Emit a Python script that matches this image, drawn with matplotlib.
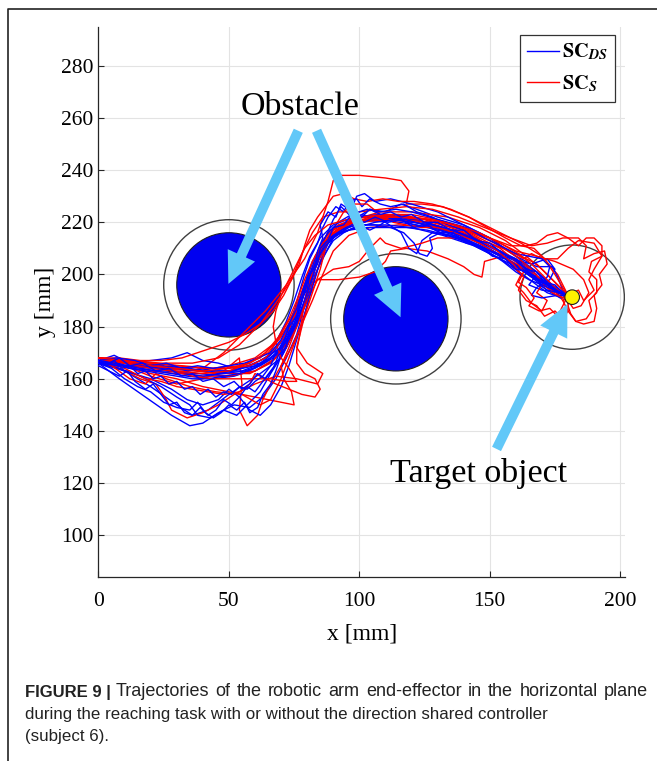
import matplotlib
matplotlib.use('Agg')
import matplotlib.pyplot as plt
from matplotlib.patches import Circle, FancyArrow
from matplotlib.lines import Line2D
import numpy as np

plt.rcParams['font.family'] = ['Liberation Serif', 'DejaVu Serif']
plt.rcParams['mathtext.fontset'] = 'stix'

# obstacles / target (center x, center y, radius)
obstacle_centers = [(50, 196), (114, 183)]
obstacle_radius = 20
safety_radius = 25
target_center = (181.6, 191.3)
target_radius = 2.8
target_zone_radius = 20

# end-effector trajectories with the direction shared controller (SC_DS)
ds_run1 = [(0, 166.5), (10, 165), (20, 164), (30, 163.5), (40, 163), (50, 163), (60, 165), (68, 169), (74, 176),
           (78, 185), (81, 195), (84, 205), (88, 213), (94, 218), (102, 220.5), (112, 220.5), (122, 219),
           (132, 216.5), (142, 213), (152, 208.5), (162, 202.5), (170, 197.5), (176, 194), (180, 192)]
ds_run2 = [(0, 166), (8, 160), (18, 153), (28, 146), (35, 142), (40, 143), (46, 147), (52, 150), (58, 149),
           (63, 153), (68, 160), (72, 168), (76, 177), (79, 188), (82, 200), (86, 210), (92, 217), (100, 222),
           (108, 223), (118, 221), (130, 218), (142, 214), (155, 207), (166, 199), (174, 195), (180, 192)]
ds_run3 = [(0, 167), (10, 163), (20, 157), (30, 150), (36, 146), (42, 148), (50, 154), (56, 158), (62, 162),
           (70, 168), (75, 178), (80, 190), (84, 202), (88, 212), (95, 219), (104, 225), (110, 224), (116, 227),
           (122, 225), (130, 222), (140, 219), (150, 214), (160, 207), (168, 201), (172, 197), (176, 193),
           (180, 192)]
ds_run4 = [(0, 166), (15, 166), (25, 165), (35, 164), (45, 162), (55, 164), (62, 167), (70, 172), (76, 181),
           (80, 190), (83, 200), (87, 208), (90, 214), (97, 219), (104, 221), (110, 220), (116, 216), (119, 210),
           (122, 208), (124, 213), (128, 216), (136, 215), (146, 211), (156, 206), (164, 201), (172, 197),
           (178, 193), (180, 192)]
ds_run5 = [(0, 166), (12, 164), (25, 163), (38, 162), (50, 161), (60, 163), (67, 167), (72, 174), (77, 183),
           (80, 193), (83, 203), (86, 212), (90, 221), (93, 226), (96, 223), (99, 230), (102, 231), (106, 228),
           (112, 229), (120, 227), (130, 224), (140, 219), (150, 214), (160, 207), (168, 203), (174, 203),
           (176, 199), (178, 194), (180, 192)]
ds_run6 = [(0, 166), (8, 164), (16, 161), (24, 157), (30, 153), (35, 150), (38, 146), (43, 145), (48, 148),
           (53, 146), (57, 150), (62, 155), (66, 162), (71, 170), (75, 178), (78, 186), (81, 196), (84, 205),
           (87, 212), (93, 216), (101, 219), (110, 219), (120, 218), (132, 215), (144, 211), (154, 206),
           (164, 199), (172, 193), (178, 191), (180, 192)]
ds_run7 = [(0, 167), (6, 169), (12, 166), (20, 167), (28, 168), (34, 170), (40, 167), (46, 166), (52, 164),
           (58, 165), (64, 168), (70, 172), (74, 180), (77, 189), (80, 198), (84, 207), (89, 214), (96, 218),
           (105, 222), (115, 222), (125, 220), (135, 217), (145, 213), (155, 208), (163, 203), (168, 200),
           (165, 196), (170, 194), (176, 193), (180, 192)]
ds_run8 = [(0, 166), (10, 165), (22, 163), (34, 161), (44, 160), (52, 161), (58, 163), (64, 167), (68, 174),
           (72, 182), (75, 190), (78, 199), (81, 207), (85, 214), (90, 219), (98, 222), (108, 223), (118, 222),
           (128, 219), (138, 216), (148, 211), (158, 205), (166, 199), (172, 194), (177, 191), (180, 192)]
ds_run9 = [(0, 166), (10, 163), (20, 160), (28, 156), (34, 152), (40, 150), (46, 152), (50, 156), (54, 153),
           (58, 148), (62, 146), (66, 150), (70, 157), (73, 165), (76, 175), (79, 185), (82, 195), (85, 205),
           (90, 213), (94, 216), (100, 219), (104, 217), (108, 219), (114, 223), (122, 221), (132, 218),
           (142, 215), (152, 210), (160, 206), (168, 201), (174, 196), (180, 192)]
ds_run10 = [(0, 166), (15, 165), (30, 164), (45, 163), (55, 163), (63, 166), (70, 171), (75, 180), (79, 190),
            (82, 200), (86, 209), (91, 216), (99, 220), (108, 222), (118, 221), (128, 218), (138, 215),
            (148, 210), (158, 206), (166, 204), (172, 206), (175, 202), (173, 198), (168, 195), (166, 192),
            (170, 191), (176, 192), (180, 192)]
ds_run11 = [(0, 165), (4, 163), (8, 161), (11, 163), (14, 159), (18, 156), (21, 158), (24, 154), (27, 150),
            (30, 151), (33, 147), (36, 146), (39, 149), (42, 146), (45, 148), (48, 152), (51, 150), (54, 153),
            (57, 157), (60, 155), (63, 159), (66, 163), (69, 167), (71, 173), (74, 178), (76, 184), (78, 190),
            (79, 196), (82, 201), (84, 208), (86, 213), (89, 217), (93, 219), (97, 221), (101, 223), (105, 221),
            (110, 222), (116, 221), (121, 219), (127, 218), (133, 215), (139, 214), (145, 211), (150, 209),
            (156, 206), (161, 203), (166, 200), (170, 198), (174, 195), (178, 193), (180, 192)]
ds_run12 = [(0, 166), (5, 167), (10, 165), (16, 166), (22, 164), (28, 165), (34, 163), (40, 164), (46, 162),
            (52, 163), (57, 165), (62, 166), (66, 169), (70, 174), (73, 180), (75, 186), (77, 193), (79, 200),
            (81, 206), (84, 212), (86, 218), (88, 222), (91, 226), (94, 224), (96, 228), (99, 229), (101, 226),
            (104, 229), (108, 227), (112, 226), (117, 227), (122, 224), (128, 222), (134, 219), (140, 217),
            (146, 213), (152, 210), (158, 205), (163, 201), (168, 198), (172, 196), (176, 193), (180, 192)]
ds_run13 = [(0, 167), (6, 166), (12, 164), (18, 163), (24, 162), (30, 161), (36, 160), (42, 160), (48, 161),
            (54, 162), (60, 164), (65, 167), (69, 171), (72, 177), (75, 183), (78, 190), (80, 197), (83, 204),
            (86, 210), (90, 215), (95, 218), (100, 219), (106, 219), (112, 218), (117, 216), (121, 212),
            (123, 208), (126, 207), (128, 210), (127, 214), (131, 216), (137, 214), (143, 212), (149, 209),
            (155, 205), (160, 201), (165, 198), (170, 196), (175, 194), (180, 192)]
ds_run14 = [(0, 166), (5, 164), (10, 160), (15, 157), (20, 155), (25, 151), (30, 149), (35, 148), (38, 151),
            (41, 147), (44, 145), (47, 147), (50, 150), (53, 148), (56, 151), (58, 147), (61, 149), (63, 154),
            (66, 158), (68, 163), (70, 169), (73, 175), (76, 181), (78, 187), (80, 193), (82, 199), (84, 206),
            (87, 211), (91, 215), (96, 217), (103, 218), (110, 218), (118, 218), (126, 217), (134, 215),
            (142, 212), (150, 208), (158, 204), (165, 200), (171, 197), (176, 194), (180, 192)]
ds_run15 = [(0, 166), (8, 165), (16, 165), (24, 164), (32, 162), (40, 161), (48, 162), (56, 163), (62, 165),
            (67, 168), (71, 173), (74, 179), (77, 186), (79, 193), (81, 200), (83, 206), (85, 211), (88, 216),
            (92, 220), (97, 223), (103, 225), (108, 224), (114, 225), (120, 224), (127, 222), (134, 220),
            (141, 218), (148, 214), (154, 211), (160, 208), (165, 207), (170, 206), (173, 203), (172, 199),
            (169, 196), (172, 194), (177, 193), (180, 192)]
ds_run16 = [(0, 167), (7, 168), (14, 167), (20, 165), (26, 166), (32, 164), (38, 165), (44, 164), (50, 165),
            (56, 166), (61, 168), (66, 170), (70, 175), (73, 181), (76, 187), (78, 193), (80, 199), (82, 205),
            (85, 210), (88, 214), (93, 216), (99, 218), (106, 220), (113, 221), (120, 220), (128, 219),
            (136, 217), (144, 214), (152, 210), (159, 206), (165, 201), (170, 197), (175, 194), (180, 192)]
ds_run17 = [(0, 166), (3, 165), (6, 167), (9, 164), (12, 165), (15, 162), (18, 163), (21, 160), (24, 161),
            (27, 158), (30, 159), (33, 156), (36, 157), (39, 154), (42, 156), (45, 153), (48, 155), (51, 154),
            (54, 157), (57, 156), (60, 159), (63, 161), (66, 165), (68, 170), (71, 174), (73, 180), (76, 184),
            (77, 190), (80, 194), (81, 200), (84, 204), (85, 210), (88, 213), (90, 218), (94, 219), (97, 223),
            (101, 222), (104, 225), (108, 223), (112, 224), (116, 222), (120, 223), (125, 220), (130, 220),
            (135, 217), (140, 217), (145, 213), (150, 212), (155, 208), (160, 206), (164, 202), (168, 201),
            (171, 197), (175, 196), (178, 193), (180, 192)]
ds_run18 = [(0, 167), (4, 166), (8, 168), (12, 165), (17, 166), (22, 163), (27, 164), (32, 161), (36, 162),
            (40, 159), (44, 160), (48, 157), (52, 159), (55, 156), (58, 158), (61, 162), (64, 160), (67, 164),
            (69, 169), (72, 172), (73, 178), (76, 182), (77, 188), (79, 193), (80, 199), (83, 203), (84, 209),
            (86, 214), (85, 219), (88, 224), (91, 222), (93, 227), (96, 225), (98, 221), (102, 220), (106, 222),
            (111, 220), (116, 221), (121, 218), (126, 219), (131, 216), (136, 216), (141, 212), (146, 211),
            (151, 207), (156, 206), (160, 202), (165, 201), (169, 197), (173, 196), (177, 193), (180, 192)]

# trajectories without it (SC_S)
s_run1 = [(0, 168), (10, 166), (20, 163), (30, 162), (40, 164), (48, 170), (56, 178), (64, 186), (72, 196),
          (79, 206), (84, 216), (88, 228), (90, 236), (92, 238), (100, 238), (110, 237), (116, 236), (119, 232),
          (118, 227), (124, 227), (132, 226), (142, 222), (152, 217), (162, 212), (170, 207), (176, 200),
          (180, 192)]
s_run2 = [(0, 168), (12, 166), (25, 164), (38, 163), (50, 165), (60, 168), (68, 174), (74, 184), (79, 194),
          (84, 198), (92, 198), (100, 199), (106, 201), (110, 205), (112, 209), (118, 210), (126, 209),
          (134, 206), (140, 203), (144, 200), (147, 199), (148, 205), (155, 207), (162, 203), (168, 199),
          (174, 195), (178, 190), (180, 191)]
s_run3 = [(0, 168), (10, 165), (20, 161), (30, 158), (40, 160), (48, 163), (54, 168), (55, 158), (54, 148),
          (57, 142), (61, 146), (63, 152), (66, 158), (70, 165), (74, 172), (78, 181), (82, 190), (86, 200),
          (90, 209), (96, 215), (104, 218), (115, 219), (128, 218), (140, 215), (152, 210), (162, 204),
          (168, 199), (172, 195), (178, 192), (180, 191)]
s_run4 = [(0, 168), (10, 165), (20, 162), (30, 160), (40, 157), (50, 155), (60, 153), (70, 151), (75, 150),
          (74, 155), (71, 160), (70, 165), (73, 172), (76, 180), (79, 190), (82, 200), (85, 210), (90, 217),
          (98, 221), (108, 224), (120, 224), (134, 222), (146, 218), (156, 213), (164, 207), (170, 202),
          (175, 197), (180, 192)]
s_run5 = [(0, 168), (8, 164), (16, 160), (22, 158), (26, 152), (28, 148), (34, 145), (40, 147), (46, 150),
          (52, 154), (60, 158), (68, 161), (76, 160), (84, 158), (86, 162), (80, 166), (76, 172), (78, 180),
          (80, 188), (82, 196), (85, 205), (88, 214), (94, 219), (104, 221), (116, 222), (126, 220), (136, 217),
          (146, 213), (156, 208), (164, 203), (170, 198), (176, 194), (180, 192)]
s_run6 = [(0, 168), (15, 166), (30, 164), (45, 162), (58, 162), (66, 166), (72, 172), (76, 180), (80, 190),
          (84, 198), (90, 202), (96, 203), (100, 205), (104, 210), (108, 214), (110, 212), (116, 210),
          (124, 212), (130, 214), (140, 214), (150, 212), (160, 208), (168, 204), (174, 198), (180, 192)]
s_run7 = [(0, 168), (12, 167), (24, 166), (36, 166), (46, 168), (54, 173), (62, 181), (68, 189), (74, 198),
          (78, 208), (82, 216), (86, 222), (92, 224), (100, 224), (108, 225), (118, 226), (128, 225), (138, 222),
          (148, 218), (158, 214), (166, 211), (172, 212), (178, 214), (184, 214), (187, 211), (186, 206),
          (190, 208), (194, 209), (195, 204), (192, 200), (193, 196), (190, 192), (191, 187), (190, 182),
          (186, 181), (183, 182), (180, 186), (180, 192)]
s_run8 = [(0, 168), (10, 167), (20, 166), (32, 165), (44, 164), (54, 165), (62, 168), (68, 174), (74, 182),
          (78, 192), (82, 202), (86, 211), (92, 217), (100, 220), (110, 221), (122, 220), (134, 217), (146, 212),
          (156, 206), (162, 200), (160, 196), (163, 193), (166, 189), (170, 186), (172, 190), (168, 193),
          (170, 196), (174, 194), (178, 191), (180, 192)]
s_run9 = [(0, 167), (5, 165), (12, 160), (18, 158), (22, 162), (26, 160), (35, 157), (45, 155), (55, 154),
          (62, 150), (66, 152), (70, 160), (73, 168), (76, 176), (79, 184), (82, 193), (85, 202), (87, 210),
          (90, 216), (96, 220), (106, 221), (116, 221), (128, 220), (140, 217), (150, 214), (160, 209),
          (168, 207), (175, 205), (182, 202), (186, 198), (188, 193), (185, 188), (182, 187), (180, 190),
          (180, 192)]
s_run10 = [(0, 168), (14, 166), (28, 163), (40, 161), (50, 161), (60, 163), (68, 168), (74, 176), (78, 186),
           (81, 196), (84, 206), (88, 214), (95, 219), (104, 222), (115, 223), (126, 221), (138, 218), (150, 213),
           (158, 209), (163, 206), (166, 208), (170, 206), (176, 206), (180, 210), (184, 213), (190, 212),
           (193, 207), (190, 202), (188, 198), (190, 194), (186, 190), (184, 194), (182, 193), (180, 192)]
s_run11 = [(0, 168), (8, 168), (16, 167), (24, 167), (32, 168), (38, 170), (44, 172), (50, 174), (56, 177),
           (62, 181), (67, 186), (71, 192), (74, 198), (77, 204), (79, 211), (81, 217), (84, 222), (87, 226),
           (90, 230), (94, 231), (98, 229), (103, 228), (109, 229), (115, 228), (121, 228), (128, 227),
           (135, 225), (142, 222), (149, 218), (156, 214), (162, 211), (167, 210), (171, 206), (175, 200),
           (178, 195), (180, 192)]
s_run12 = [(0, 168), (6, 166), (12, 163), (18, 160), (24, 159), (30, 157), (36, 156), (42, 155), (48, 154),
           (54, 155), (58, 158), (60, 162), (64, 160), (68, 158), (73, 156), (78, 154), (83, 153), (85, 156),
           (83, 160), (79, 162), (76, 166), (76, 171), (77, 176), (78, 183), (79, 190), (81, 198), (83, 205),
           (85, 211), (88, 216), (92, 219), (98, 220), (104, 221), (112, 222), (120, 222), (128, 221),
           (136, 219), (144, 216), (152, 212), (160, 207), (166, 202), (170, 197), (174, 193), (178, 191),
           (180, 192)]
s_run13 = [(0, 168), (10, 167), (20, 166), (30, 165), (40, 164), (50, 164), (58, 165), (64, 168), (69, 173),
           (73, 179), (76, 186), (79, 193), (82, 200), (85, 207), (88, 213), (91, 219), (94, 224), (98, 227),
           (103, 227), (108, 223), (113, 220), (118, 219), (124, 218), (130, 218), (136, 217), (142, 216),
           (148, 213), (154, 210), (160, 205), (163, 201), (161, 197), (164, 195), (167, 191), (165, 188),
           (169, 186), (173, 187), (176, 184), (178, 188), (180, 192)]
s_run14 = [(0, 168), (10, 166), (20, 165), (30, 163), (40, 162), (50, 163), (58, 166), (65, 170), (70, 176),
           (74, 183), (77, 191), (80, 199), (83, 207), (87, 214), (92, 219), (100, 222), (110, 223), (120, 223),
           (130, 221), (140, 218), (150, 214), (158, 211), (164, 211), (168, 212), (172, 215), (176, 216),
           (180, 214), (184, 211), (187, 214), (190, 214), (193, 211), (193, 207), (189, 205), (188, 201),
           (191, 198), (191, 193), (188, 190), (189, 186), (187, 183), (183, 182), (181, 185), (180, 188),
           (180, 192)]
s_run15 = [(0, 168), (10, 166), (20, 164), (28, 163), (36, 161), (44, 160), (52, 160), (60, 160), (66, 160),
           (72, 159), (76, 159), (73, 164), (70, 168), (68, 174), (67, 180), (68, 186), (70, 192), (73, 198),
           (76, 204), (79, 210), (83, 215), (88, 219), (95, 221), (103, 222), (111, 222), (119, 222), (128, 221),
           (137, 219), (146, 216), (154, 212), (161, 208), (166, 204), (171, 199), (175, 195), (178, 193),
           (180, 192)]
s_run16 = [(0, 168), (10, 167), (20, 165), (30, 164), (40, 163), (50, 164), (58, 166), (64, 170), (69, 176),
           (73, 183), (76, 190), (79, 198), (82, 205), (86, 212), (91, 217), (98, 220), (106, 222), (115, 222),
           (125, 221), (135, 218), (145, 214), (153, 209), (159, 204), (163, 199), (161, 194), (164, 190),
           (168, 188), (171, 184), (175, 186), (178, 183), (180, 186), (178, 190), (180, 192)]

ds_runs = [ds_run1, ds_run2, ds_run3, ds_run4, ds_run5, ds_run6, ds_run7, ds_run8, ds_run9,
           ds_run10, ds_run11, ds_run12, ds_run13, ds_run14, ds_run15, ds_run16, ds_run17, ds_run18]
s_runs = [s_run1, s_run2, s_run3, s_run4, s_run5, s_run6, s_run7, s_run8,
          s_run9, s_run10, s_run11, s_run12, s_run13, s_run14, s_run15, s_run16]

xticks = [0, 50, 100, 150, 200]
yticks = [100, 120, 140, 160, 180, 200, 220, 240, 260, 280]

caption_head = 'FIGURE 9 |'
caption_line1 = 'Trajectories of the robotic arm end-effector in the horizontal plane'
caption_line2 = 'during the reaching task with or without the direction shared controller'
caption_line3 = '(subject 6).'

W, H = 657, 761
fig = plt.figure(figsize=(W / 100, H / 100), dpi=100)
ax = fig.add_axes([0.1499, 0.2418, 0.802, 0.7231])

for i in range(max(len(ds_runs), len(s_runs))):
    if i < len(ds_runs):
        p = np.array(ds_runs[i])
        ax.plot(p[:, 0], p[:, 1], color='#0000FF', lw=1.0, zorder=3)
    if i < len(s_runs):
        p = np.array(s_runs[i])
        ax.plot(p[:, 0], p[:, 1], color='#FF0000', lw=1.0, zorder=3)

for c in obstacle_centers:
    ax.add_patch(Circle(c, safety_radius, fill=False, ec='#404040', lw=1.0, zorder=2))
    ax.add_patch(Circle(c, obstacle_radius, fc='#0000F0', ec='#202020', lw=0.8, zorder=2))
ax.add_patch(Circle(target_center, target_zone_radius, fill=False, ec='#404040', lw=1.0, zorder=2))
ax.add_patch(Circle(target_center, target_radius, fc='#FFF200', ec='#202020', lw=0.8, zorder=5))

# annotation arrows
arrow_color = '#62C8F8'
for (x0, y0), (x1, y1) in [((76.6, 255.1), (49.8, 196.4)),
                           ((83.6, 255.1), (115.8, 183.6)),
                           ((152.6, 133.1), (179.8, 188.7))]:
    ax.add_patch(FancyArrow(x0, y0, x1 - x0, y1 - y0, width=3.8, head_width=11.5, head_length=12,
                            length_includes_head=True, color=arrow_color, lw=0, zorder=6))

ax.text(77.2, 264.4, 'Obstacle', fontsize=24.5, ha='center', va='center', zorder=7)
ax.text(145.8, 123.7, 'Target object', fontsize=24.5, ha='center', va='center', zorder=7)

ax.set_xlim(0, 202)
ax.set_ylim(84, 295)
ax.set_xticks(xticks)
ax.set_yticks(yticks)
ax.tick_params(direction='in', labelsize=15.5, length=4, width=0.8, color='#262626')
ax.tick_params(axis='x', pad=10.5)
ax.grid(True, color='#E3E3E3', lw=0.8, zorder=0)
ax.set_axisbelow(True)
for side in ['top', 'right']:
    ax.spines[side].set_visible(False)
for side in ['left', 'bottom']:
    ax.spines[side].set_color('#262626')
    ax.spines[side].set_linewidth(0.9)
ax.set_xlabel('x [mm]', fontsize=17, labelpad=9)
ax.set_ylabel('y [mm]', fontsize=17, labelpad=4)

handles = [Line2D([], [], color='#0000FF', lw=1.0), Line2D([], [], color='#FF0000', lw=1.0)]
labels = [r'$\mathbf{SC}_{\mathbfit{DS}}$', r'$\mathbf{SC}_{\mathbfit{S}}$']
leg = ax.legend(handles, labels, loc='upper right', bbox_to_anchor=(0.98, 0.985), borderaxespad=0,
                fontsize=14.5, handlelength=1.6, handletextpad=0.15, labelspacing=0.55,
                borderpad=0.35, fancybox=False, framealpha=1)
leg.get_frame().set_edgecolor('#333333')
leg.get_frame().set_linewidth(0.9)

# page frame around the figure
fig.add_artist(Line2D([8 / W, 8 / W, 1.0], [0, 1 - 9 / H, 1 - 9 / H],
                      transform=fig.transFigure, color='#222222', lw=1.2))

# caption, first line justified to the right margin
cap = dict(family=['Liberation Sans', 'DejaVu Sans'], color='#222222', va='center')
y1 = 1 - 692 / H
t1 = fig.text(25 / W, y1, caption_head, fontweight='bold', fontsize=12.0, **cap)
renderer = fig.canvas.get_renderer()
x_left = t1.get_window_extent(renderer).x1 + 5
x_right = 648
words = [fig.text(0, y1, w, fontsize=13.0, **cap) for w in caption_line1.split()]
widths = [t.get_window_extent(renderer).width for t in words]
gap = (x_right - x_left - sum(widths)) / (len(words) - 1)
x = x_left
for t, w in zip(words, widths):
    t.set_x(x / W)
    x += w + gap
fig.text(25 / W, 1 - 715 / H, caption_line2, fontsize=12.2, **cap)
fig.text(25 / W, 1 - 737 / H, caption_line3, fontsize=12.2, **cap)

fig.savefig('out.png', dpi=100)
